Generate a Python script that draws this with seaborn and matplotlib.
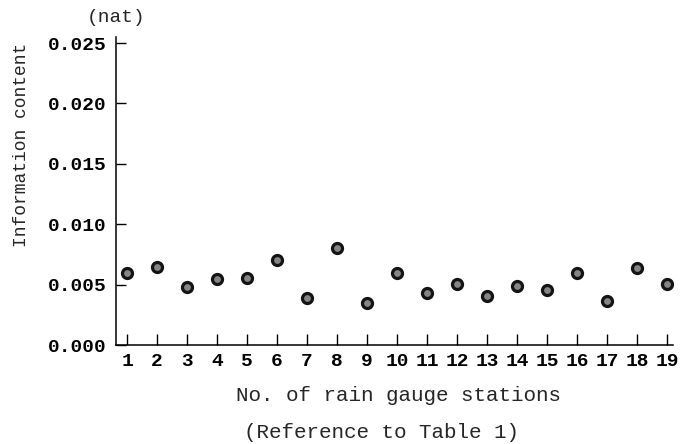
import matplotlib
matplotlib.use("Agg")
import matplotlib.pyplot as plt
import seaborn as sns
import pandas as pd
from matplotlib.ticker import FormatStrFormatter

# Information content per rain gauge station
stations = list(range(1, 20))
info_content = [0.00600, 0.00649, 0.00483, 0.00547, 0.00556, 0.00702, 0.00387,
                0.00807, 0.00348, 0.00600, 0.00434, 0.00503, 0.00409, 0.00487,
                0.00456, 0.00597, 0.00367, 0.00641, 0.00506]
y_ticks = [0.000, 0.005, 0.010, 0.015, 0.020, 0.025]

df = pd.DataFrame({"station": stations, "info": info_content})

sns.set_style("ticks")
plt.rcParams["font.family"] = ["Liberation Mono", "DejaVu Sans Mono"]

fig = plt.figure(figsize=(6.81, 4.44), dpi=100)
ax = fig.add_axes([116 / 681, 99 / 444, 557 / 681, 308 / 444])

sns.scatterplot(data=df, x="station", y="info", ax=ax, s=52,
                color="#858585", edgecolor="#141414", linewidth=2.3, zorder=3)

ax.set_xlim(0.633, 19.2)
ax.set_ylim(0, 0.0255)
ax.set_xticks(stations)
ax.set_xticklabels([str(s) for s in stations], fontsize=14, fontweight="bold")
ax.set_yticks(y_ticks)
ax.yaxis.set_major_formatter(FormatStrFormatter("%.3f"))
for lab in ax.get_yticklabels():
    lab.set_fontsize(14)
    lab.set_fontweight("bold")

ax.tick_params(axis="both", direction="in", colors="black", width=1.0)
ax.tick_params(axis="y", length=7, pad=7)
ax.tick_params(axis="x", length=8, pad=6)
sns.despine(ax=ax)
for side in ("left", "bottom"):
    ax.spines[side].set_color("black")
    ax.spines[side].set_linewidth(1.1)

ax.set_xlabel("")
ax.set_ylabel("")

fig.text(116 / 681, 1 - 17 / 444, "(nat)", ha="center", va="center", fontsize=14)
fig.text(22 / 681, 1 - 145 / 444, "Information content", rotation=90,
         ha="center", va="center", fontsize=13)
fig.text(399 / 681, 1 - 395 / 444, "No. of rain gauge stations",
         ha="center", va="center", fontsize=15)
fig.text(381 / 681, 1 - 432 / 444, "(Reference to Table 1)",
         ha="center", va="center", fontsize=15)

fig.savefig("out.png", dpi=100, facecolor="white")
